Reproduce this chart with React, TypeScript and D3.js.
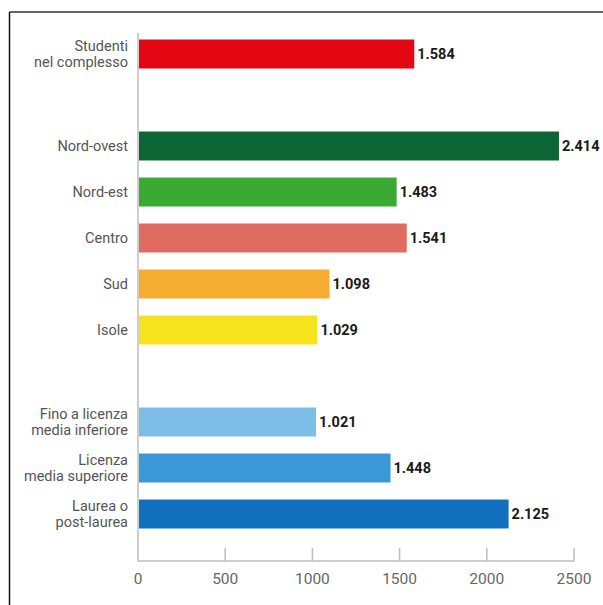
import React from "react";
import * as d3 from "d3";

const categories = [
  "Studenti\nnel complesso",
  "gap1",
  "Nord-ovest",
  "Nord-est",
  "Centro",
  "Sud",
  "Isole",
  "gap2",
  "Fino a licenza\nmedia inferiore",
  "Licenza\nmedia superiore",
  "Laurea o\npost-laurea",
];
const values: (number | null)[] = [1584, null, 2414, 1483, 1541, 1098, 1029, null, 1021, 1448, 2125];
const colors: (string | null)[] = [
  "#e30613", null, "#0b6634", "#3aaa35", "#e06c61", "#f6ab31", "#f6e31b", null, "#7dbee9", "#3a98d7", "#1170be",
];
const ticks = [0, 500, 1000, 1500, 2000, 2500];

const W = 603;
const H = 605;

export default function App() {
  const x = d3.scaleLinear().domain([0, 2500]).range([138, 574]);
  const y = d3.scaleBand<string>().domain(categories).range([31, 537]).paddingInner(0.37).paddingOuter(0.185);
  const fmt = (v: number) => d3.format(",")(v).replace(/,/g, ".");
  const axisY = 561;
  const font = "Roboto, 'Noto Sans', sans-serif";

  return (
    <svg width={W} height={H} style={{ position: "absolute", left: 0, top: 0, background: "#fff" }}>
      <rect x={0} y={0} width={W} height={H} fill="#fff" />
      {/* frame */}
      <line x1={9.5} y1={12} x2={603} y2={12} stroke="#333" strokeWidth={1.5} />
      <line x1={9.5} y1={12} x2={9.5} y2={605} stroke="#111" strokeWidth={1.5} />
      {/* axes */}
      <line x1={x(0)} y1={33} x2={x(0)} y2={axisY} stroke="#bdbdbd" strokeWidth={1.5} />
      <line x1={x(0)} y1={axisY} x2={x(2500)} y2={axisY} stroke="#bdbdbd" strokeWidth={1.5} />
      {ticks.map((t) => (
        <g key={t}>
          {t > 0 && <line x1={x(t)} y1={axisY - 13} x2={x(t)} y2={axisY} stroke="#bdbdbd" strokeWidth={1.5} />}
          <text x={x(t)} y={axisY + 23} textAnchor="middle" fontFamily={font} fontSize={15.5} fill="#666">
            {t}
          </text>
        </g>
      ))}
      {categories.map((c, i) => {
        const v = values[i];
        if (v === null) return null;
        const y0 = y(c)!;
        const bh = y.bandwidth();
        const cy = y0 + bh / 2;
        const lines = c.split("\n");
        return (
          <g key={c}>
            <rect x={x(0) + 1} y={y0} width={x(v) - x(0) - 1} height={bh} fill={colors[i]!} />
            <text x={x(v) + 3} y={cy + 5} fontFamily={font} fontWeight={700} fontSize={14.5} fill="#1a1a1a">
              {fmt(v)}
            </text>
            {lines.map((l, j) => (
              <text
                key={j}
                x={128}
                y={cy + 5 + (j - (lines.length - 1) / 2) * 16}
                textAnchor="end"
                fontFamily={font}
                fontSize={14.5}
                fill="#555"
              >
                {l}
              </text>
            ))}
          </g>
        );
      })}
    </svg>
  );
}
